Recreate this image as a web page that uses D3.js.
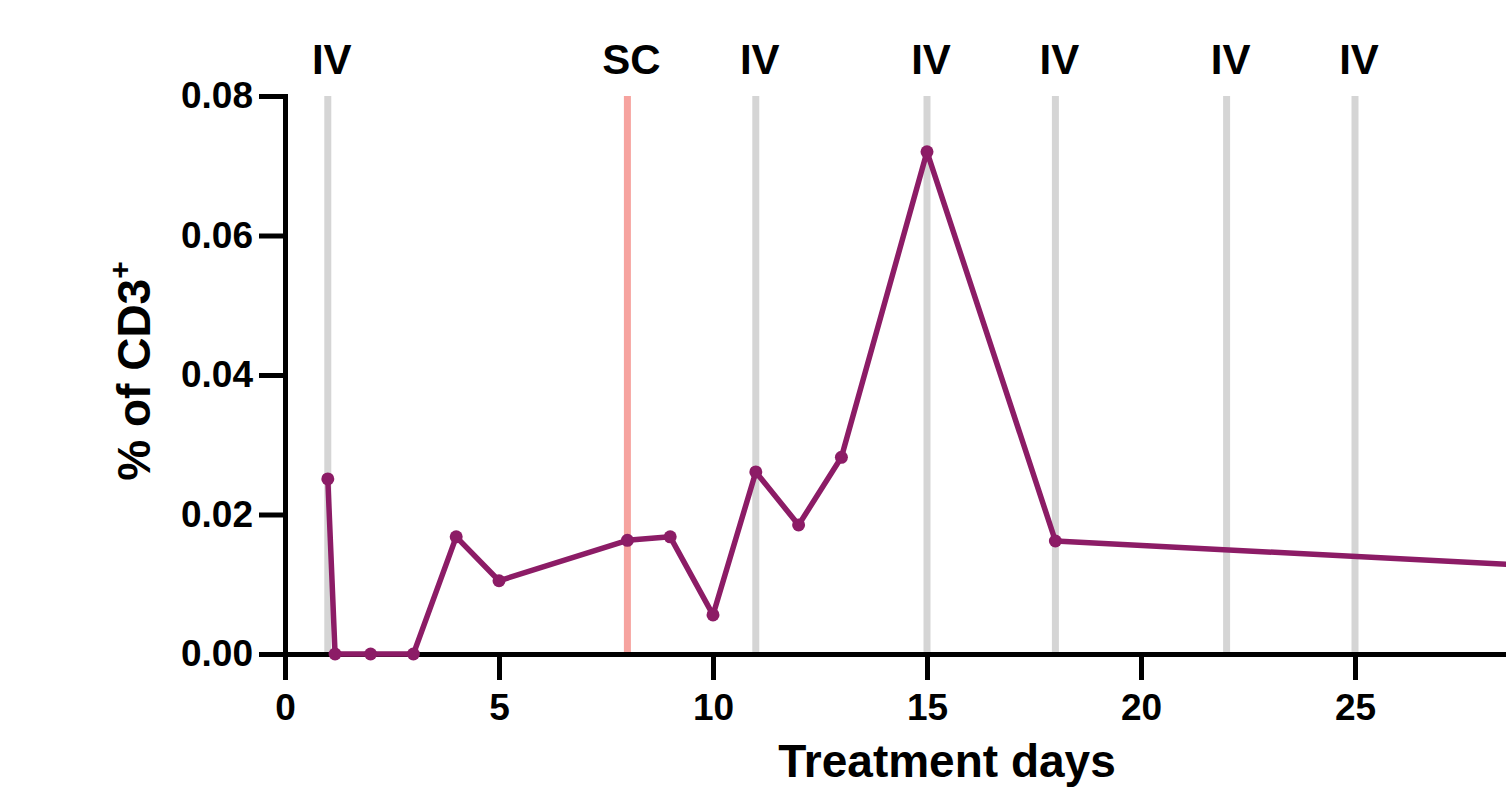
<!DOCTYPE html>
<html>
<head>
<meta charset="utf-8">
<script src="https://cdn.jsdelivr.net/npm/d3@7"></script>
<style>
  body { margin: 0; background: #fff; }
  svg { display: block; font-family: "Liberation Sans", Arial, sans-serif; font-weight: bold; }
</style>
</head>
<body>
<svg width="1506" height="791"></svg>
<script>
// data
const days = [1, 1.17, 2, 3, 4, 5, 8, 9, 10, 11, 12, 13, 15, 18, 30];
const cd3 = [0.0251, 0, 0, 0, 0.0168, 0.0105, 0.0163, 0.0168, 0.0056, 0.0261, 0.0185, 0.0282, 0.072, 0.0162, 0.0124];
const ivDays = [1, 11, 15, 18, 22, 25];
const scDays = [8];
const xTicks = [0, 5, 10, 15, 20, 25];
const yTicks = [0, 0.02, 0.04, 0.06, 0.08];

const svg = d3.select('svg');
const purple = '#8c1c66';

const x = d3.scaleLinear().domain([0, 31]).range([285, 285 + 31 * 42.8]);
const y = d3.scaleLinear().domain([0, 0.08]).range([654, 96]);

// treatment markers
const treat = ivDays.map(d => ({day: d, kind: 'IV'}))
  .concat(scDays.map(d => ({day: d, kind: 'SC'})));

svg.selectAll('line.treat')
  .data(treat)
  .enter()
  .append('line')
  .attr('class', 'treat')
  .attr('x1', d => x(d.day))
  .attr('x2', d => x(d.day))
  .attr('y1', y(0.08))
  .attr('y2', y(0) + 3)
  .attr('stroke', d => d.kind == 'SC' ? '#f6a39f' : '#d5d5d5')
  .attr('stroke-width', 7);

svg.selectAll('text.treat')
  .data(treat)
  .enter()
  .append('text')
  .attr('class', 'treat')
  .attr('x', d => x(d.day) + 4)
  .attr('y', 74)
  .attr('text-anchor', 'middle')
  .style('font-size', '42px')
  .text(d => d.kind);

// axes
const xAxis = svg.append('g')
  .attr('transform', `translate(0,${y(0)})`)
  .call(d3.axisBottom(x).tickValues(xTicks).tickSize(26).tickSizeOuter(0).tickPadding(14).tickFormat(d3.format('d')));
const yAxis = svg.append('g')
  .attr('transform', `translate(${x(0)},0)`)
  .call(d3.axisLeft(y).tickValues(yTicks).tickSize(26).tickSizeOuter(0).tickPadding(6).tickFormat(d3.format('.2f')));

[xAxis, yAxis].forEach(g => {
  g.select('.domain').attr('stroke', '#000').attr('stroke-width', 5).attr('stroke-linecap', 'square');
  g.selectAll('.tick line').attr('stroke', '#000').attr('stroke-width', 5);
  g.selectAll('.tick text')
    .attr('fill', '#000')
    .style('font-size', '37px')
    .style('font-family', '"Liberation Sans", Arial, sans-serif')
    .style('font-weight', 'bold');
});

// titles
svg.append('text')
  .attr('x', 947)
  .attr('y', 777)
  .attr('text-anchor', 'middle')
  .style('font-size', '46px')
  .text('Treatment days');

const yTitle = svg.append('text')
  .attr('transform', 'translate(150,371) rotate(-90)')
  .attr('text-anchor', 'middle')
  .style('font-size', '46px');
yTitle.append('tspan').text('% of CD3');
yTitle.append('tspan').attr('dy', -20).style('font-size', '30px').text('+');

// data line and points
const pts = days.map((d, i) => ({day: d, v: cd3[i]}));

svg.append('path')
  .datum(pts)
  .attr('fill', 'none')
  .attr('stroke', purple)
  .attr('stroke-width', 5.5)
  .attr('stroke-linejoin', 'round')
  .attr('d', d3.line().x(d => x(d.day)).y(d => y(d.v)));

svg.selectAll('circle')
  .data(pts)
  .enter()
  .append('circle')
  .attr('cx', d => x(d.day))
  .attr('cy', d => y(d.v))
  .attr('r', 6.5)
  .attr('fill', purple);
</script>
</body>
</html>
